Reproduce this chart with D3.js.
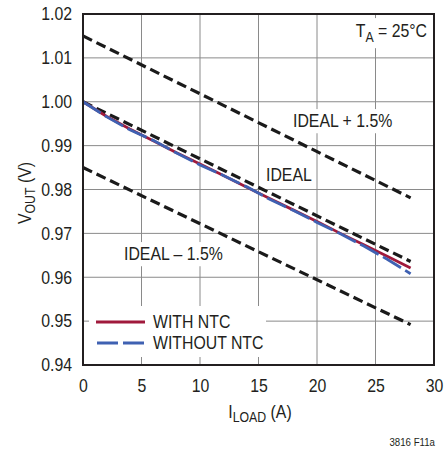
<!DOCTYPE html>
<html>
<head>
<meta charset="utf-8">
<script src="https://cdn.jsdelivr.net/npm/d3@7"></script>
<style>
  html, body { margin: 0; padding: 0; background: #fff; }
  svg { display: block; }
  text { font-family: "Liberation Sans", Arial, Helvetica, sans-serif; fill: #231f20; }
</style>
</head>
<body>
<div id="chart"></div>
<script>
// ---- data ----
const loadCurrent = [0, 2, 4, 6, 8, 10, 12, 14, 16, 18, 20, 22, 24, 26, 28];
const withNTC    = [1.0000, 0.9967, 0.9938, 0.9911, 0.9884, 0.9858, 0.9832, 0.9805, 0.9779, 0.9753, 0.9727, 0.9700, 0.9674, 0.9648, 0.9621];
const withoutNTC = [1.0000, 0.9966, 0.9936, 0.9912, 0.9883, 0.9856, 0.9832, 0.9806, 0.9777, 0.9752, 0.9725, 0.9699, 0.9671, 0.9641, 0.9608];
const idealCurrent = [0, 28];
const ideal      = [1.000, 0.9636];
const idealPlus  = [1.015, 0.9781];
const idealMinus = [0.985, 0.9492];
const xTicks = [0, 5, 10, 15, 20, 25, 30];
const yTicks = [0.94, 0.95, 0.96, 0.97, 0.98, 0.99, 1.00, 1.01, 1.02];
const legendLabels = ["WITH NTC", "WITHOUT NTC"];

// ---- layout ----
const W = 446, H = 449;
const S = 0.88;   // horizontal condensing of the Helvetica-like font
const fs = 18;
const svg = d3.select("#chart").append("svg").attr("width", W).attr("height", H);
svg.append("rect").attr("width", W).attr("height", H).attr("fill", "#fff");

const x = d3.scaleLinear().domain([0, 30]).range([83, 434]);
const y = d3.scaleLinear().domain([0.94, 1.02]).range([365, 14]);

// condensed text group helper
function ngroup(parent, tx, ty, rot) {
  return parent.append("g").attr("transform", `translate(${tx},${ty})${rot ? ` rotate(${rot})` : ""} scale(${S},1)`);
}

const gridColor = "#8a8a8a";
svg.append("g").selectAll("line").data(xTicks.slice(1, -1)).join("line")
  .attr("x1", d => x(d)).attr("x2", d => x(d))
  .attr("y1", y(0.94)).attr("y2", y(1.02))
  .attr("stroke", gridColor).attr("stroke-width", 1);
svg.append("g").selectAll("line").data(yTicks.slice(1, -1)).join("line")
  .attr("x1", x(0)).attr("x2", x(30))
  .attr("y1", d => y(d)).attr("y2", d => y(d))
  .attr("stroke", gridColor).attr("stroke-width", 1);

// tick labels
const xAxis = svg.append("g").attr("transform", `translate(0,${y(0.94)})`)
  .call(d3.axisBottom(x).tickValues(xTicks).tickSize(0).tickPadding(14).tickFormat(d3.format("d")));
xAxis.select(".domain").remove();
xAxis.selectAll("text").attr("font-size", fs).attr("font-family", null).attr("fill", "#231f20")
  .attr("transform", `scale(${S},1)`);

const yAxis = svg.append("g").attr("transform", `translate(${x(0)},0)`)
  .call(d3.axisLeft(y).tickValues(yTicks).tickSize(0).tickPadding(11).tickFormat(d3.format(".2f")));
yAxis.select(".domain").remove();
yAxis.selectAll("text").attr("font-size", fs).attr("font-family", null).attr("fill", "#231f20")
  .attr("x", -11 / S).attr("transform", `scale(${S},1)`);

// annotation labels with white backgrounds
function boxedLabel(tx, ty, anchor, build, pad) {
  const grp = ngroup(svg, tx, ty);
  const bg = grp.append("rect").attr("fill", "#fff");
  const t = grp.append("text").attr("font-size", fs).attr("text-anchor", anchor);
  build(t);
  const b = t.node().getBBox();
  bg.attr("x", b.x - pad[0]).attr("y", b.y - pad[1]).attr("width", b.width + 2 * pad[0]).attr("height", b.height + 2 * pad[1]);
}
boxedLabel(293, 127, "start", t => t.text("IDEAL + 1.5%"), [3, 2]);
boxedLabel(266, 181, "start", t => t.text("IDEAL"), [2, 1]);
boxedLabel(124, 260, "start", t => t.text("IDEAL – 1.5%"), [3, 2]);
boxedLabel(427, 37, "end", t => {
  t.append("tspan").text("T");
  t.append("tspan").attr("font-size", 14).attr("dy", 5).text("A");
  t.append("tspan").attr("dy", -5).text(" = 25°C");
}, [4, 3]);

// legend box
const legend = svg.append("g");
legend.append("rect").attr("x", 89).attr("y", 306).attr("width", 177).attr("height", 51).attr("fill", "#fff");

// reference (ideal) dashed lines
const line = d3.line().x(d => x(d[0])).y(d => y(d[1]));
svg.append("g").selectAll("path").data([ideal, idealPlus, idealMinus]).join("path")
  .attr("d", d => line(d3.zip(idealCurrent, d)))
  .attr("fill", "none").attr("stroke", "#1a1a1a").attr("stroke-width", 3.2)
  .attr("stroke-dasharray", "10,5");

const red = "#a01a3c", blue = "#3f61b2";
svg.append("path").attr("d", line(d3.zip(loadCurrent, withNTC)))
  .attr("fill", "none").attr("stroke", red).attr("stroke-width", 2.8);
svg.append("path").attr("d", line(d3.zip(loadCurrent, withoutNTC)))
  .attr("fill", "none").attr("stroke", blue).attr("stroke-width", 2.8)
  .attr("stroke-dasharray", "21,5");

// legend content
legend.append("line").attr("x1", 96).attr("x2", 145).attr("y1", 322).attr("y2", 322)
  .attr("stroke", red).attr("stroke-width", 3);
legend.append("line").attr("x1", 97).attr("x2", 145).attr("y1", 343).attr("y2", 343)
  .attr("stroke", blue).attr("stroke-width", 3).attr("stroke-dasharray", "21,5");
legendLabels.forEach((d, i) => {
  ngroup(legend, 153, 328 + i * 21).append("text").attr("font-size", fs).text(d);
});

// frame
svg.append("rect").attr("x", x(0)).attr("y", y(1.02))
  .attr("width", x(30) - x(0)).attr("height", y(0.94) - y(1.02))
  .attr("fill", "none").attr("stroke", "#231f20").attr("stroke-width", 2);

// axis titles
const xt = ngroup(svg, 260, 418).append("text").attr("font-size", fs).attr("text-anchor", "middle");
xt.append("tspan").text("I");
xt.append("tspan").attr("font-size", 14).attr("dy", 4).text("LOAD");
xt.append("tspan").attr("dy", -4).text(" (A)");

const yt = ngroup(svg, 31, 193, -90).append("text").attr("font-size", fs).attr("text-anchor", "middle");
yt.append("tspan").text("V");
yt.append("tspan").attr("font-size", 14).attr("dy", 4).text("OUT");
yt.append("tspan").attr("dy", -4).text(" (V)");

ngroup(svg, 435, 446).append("text").attr("text-anchor", "end").attr("font-size", 11).text("3816 F11a");
</script>
</body>
</html>
